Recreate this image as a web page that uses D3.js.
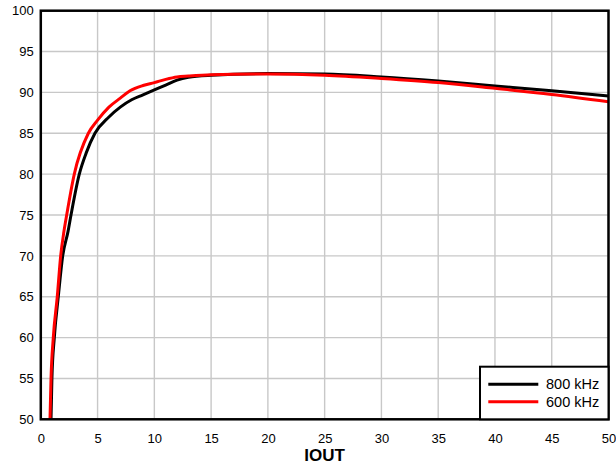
<!DOCTYPE html>
<html><head><meta charset="utf-8">
<script src="https://cdn.jsdelivr.net/npm/d3@7"></script>
<style>body{margin:0;background:#fff}svg{display:block;font-family:"Liberation Sans",Arial,sans-serif}</style>
</head><body><svg id="c" width="616" height="467"></svg>
<script>
const xTicks = [0,5,10,15,20,25,30,35,40,45,50];
const yTicks = [50,55,60,65,70,75,80,85,90,95,100];
const seriesNames = ["800 kHz","600 kHz"];
const seriesColors = ["#000000","#ff0000"];
const iout800 = [0.9,0.98,1.19,1.54,1.93,2.4,2.66,3.39,4,4.77,6,7,8,9,10,11,12,13,15,20,25,30,35,40,45,50];
const eff800  = [50,55,60,65,70,73,75,80,82.6,85,87.0,88.2,89.1,89.7,90.3,90.9,91.5,91.85,92.1,92.3,92.25,91.9,91.4,90.8,90.2,89.55];
const iout600 = [0.81,0.9,1.1,1.45,1.75,2.04,2.28,2.95,4.19,5,6,7,7.86,9,10,11,12,13,15,20,25,30,35,40,45,50];
const eff600  = [50,55,60,65,70,73,75,80,85,86.6,88.2,89.3,90.2,90.85,91.2,91.6,91.9,92.0,92.15,92.25,92.1,91.7,91.2,90.5,89.75,88.85];

const svg = d3.select("#c");
const L=40.8, R=608.5, T=10.7, B=419.3;
const x = d3.scaleLinear().domain([0,50]).range([L,R]);
const y = d3.scaleLinear().domain([50,100]).range([B,T]);

// grid
svg.append("g").selectAll("line").data(xTicks).join("line")
  .attr("x1",d=>x(d)).attr("x2",d=>x(d)).attr("y1",T).attr("y2",B)
  .attr("stroke","#c8c8c8").attr("stroke-width",1.4);
svg.append("g").selectAll("line").data(yTicks).join("line")
  .attr("x1",L).attr("x2",R).attr("y1",d=>y(d)).attr("y2",d=>y(d))
  .attr("stroke","#c8c8c8").attr("stroke-width",1.4);

// axes labels
const xa = svg.append("g").attr("transform",`translate(0,${B})`)
  .call(d3.axisBottom(x).tickValues(xTicks).tickSize(0).tickPadding(14));
xa.select(".domain").remove();
xa.selectAll("text").attr("font-size",13).attr("fill","#000").attr("font-family","Liberation Sans, Arial, sans-serif");
const ya = svg.append("g").attr("transform",`translate(${L},0)`)
  .call(d3.axisLeft(y).tickValues(yTicks).tickSize(0).tickPadding(7));
ya.select(".domain").remove();
ya.selectAll("text").attr("font-size",13).attr("fill","#000").attr("font-family","Liberation Sans, Arial, sans-serif");

// lines
const data = [d3.zip(iout800,eff800), d3.zip(iout600,eff600)];
const line = d3.line().x(d=>x(d[0])).y(d=>y(d[1])).curve(d3.curveMonotoneX);
svg.append("defs").append("clipPath").attr("id","cp").append("rect")
  .attr("x",L).attr("y",T).attr("width",R-L).attr("height",B-T);
svg.append("g").attr("clip-path","url(#cp)").selectAll("path").data(data).join("path")
  .attr("d",line).attr("fill","none")
  .attr("stroke",(d,i)=>seriesColors[i]).attr("stroke-width",3).attr("stroke-linejoin","round");

// frame
svg.append("rect").attr("x",L).attr("y",T).attr("width",R-L).attr("height",B-T)
  .attr("fill","none").attr("stroke","#000").attr("stroke-width",2.5);

// legend
const lg = svg.append("g");
lg.append("rect").attr("x",480).attr("y",366.7).attr("width",R-480).attr("height",B-366.7)
  .attr("fill","#fff").attr("stroke","#000").attr("stroke-width",2);
seriesNames.forEach((n,i)=>{
  const yy = 384.3 + i*17.4;
  lg.append("line").attr("x1",488.3).attr("x2",538.3).attr("y1",yy).attr("y2",yy)
    .attr("stroke",seriesColors[i]).attr("stroke-width",3);
  lg.append("text").attr("x",546).attr("y",yy+5).attr("font-size",14.5).text(n);
});

// x title
svg.append("text").attr("x",(L+R)/2).attr("y",461).attr("text-anchor","middle")
  .attr("font-size",17).attr("font-weight","bold").text("IOUT");
</script></body></html>
